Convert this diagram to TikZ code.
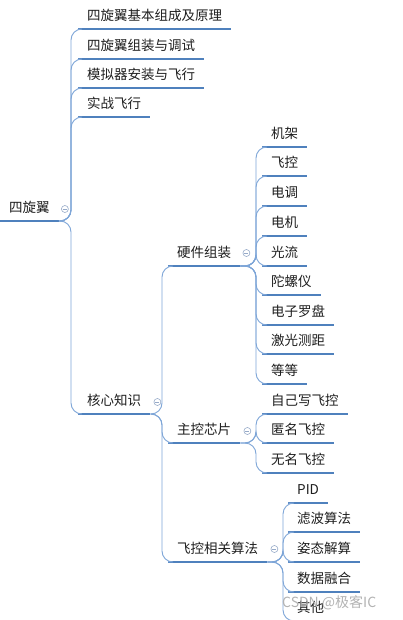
\documentclass[tikz,border=0pt]{standalone}
\usepackage{fontspec}
\newfontfamily\cjk{Noto Sans CJK SC}
\usepackage{tikz}
\usetikzlibrary{positioning, arrows.meta}
\usepackage{xcolor}
\definecolor{ulblue}{RGB}{79,129,189}
\definecolor{lnblue}{RGB}{125,165,215}
\definecolor{txtgray}{RGB}{30,30,30}
\definecolor{knob}{RGB}{150,170,200}
\tikzset{topic/.style={anchor=south west, inner xsep=9pt, inner ysep=0pt,
           text height=12pt, text depth=8pt, font=\cjk\fontsize{13.5}{16}\selectfont,
           text=txtgray, append after command={
             (\tikzlastnode.south west) edge[uline] (\tikzlastnode.south east)}},
         uline/.style={draw=ulblue, line width=2.4pt},
         conn/.style={draw=lnblue, line width=0.9pt, rounded corners=11pt},
         fold/.style={circle, draw=knob, line width=0.6pt, minimum size=7pt,
           inner sep=0pt, path picture={\draw[knob, line width=0.6pt]
             ([xshift=-2pt]path picture bounding box.center) --
             ([xshift=2pt]path picture bounding box.center);}}}

\begin{document}
\begin{tikzpicture}[x=1pt, y=-1pt]
        \useasboundingbox (0,0) rectangle (402,620);

        % Root and first level
        \node[topic] (root) at (0,221) {四旋翼};
        \node[topic] (basic) at (78,29) {四旋翼基本组成及原理};
        \node[topic] (build) at (78,59) {四旋翼组装与调试};
        \node[topic] (sim) at (78,88) {模拟器安装与飞行};
        \node[topic] (fly) at (78,117) {实战飞行};
        \node[topic] (core) at (78,414) {核心知识};

        % Second level
        \node[topic] (hw) at (168,266) {硬件组装};
        \node[topic] (mcu) at (168,443) {主控芯片};
        \node[topic] (algo) at (168,562) {飞控相关算法};

        % Hardware parts
        \node[topic] (frame) at (262,147) {机架};
        \node[topic] (fc) at (262,176) {飞控};
        \node[topic] (esc) at (262,206) {电调};
        \node[topic] (motor) at (262,236) {电机};
        \node[topic] (flow) at (262,266) {光流};
        \node[topic] (gyro) at (262,295) {陀螺仪};
        \node[topic] (compass) at (262,325) {电子罗盘};
        \node[topic] (lidar) at (262,354) {激光测距};
        \node[topic] (etc) at (262,384) {等等};

        % Flight controllers
        \node[topic] (own) at (262,414) {自己写飞控};
        \node[topic] (anon) at (262,443) {匿名飞控};
        \node[topic] (noname) at (262,473) {无名飞控};

        % Algorithms
        \node[topic] (pid) at (288,503) {PID};
        \node[topic] (filter) at (288,532) {滤波算法};
        \node[topic] (attitude) at (288,562) {姿态解算};
        \node[topic] (fusion) at (288,592) {数据融合};
        \node[topic] (other) at (288,621) {其他};

        % Fold knobs
        \node[fold] (kroot) at ([xshift=6pt,yshift=12pt]root.south east) {};
        \node[fold] (kcore) at ([xshift=7pt,yshift=12pt]core.south east) {};
        \node[fold] (khw) at ([xshift=6pt,yshift=13pt]hw.south east) {};
        \node[fold] (kmcu) at ([xshift=7pt,yshift=12pt]mcu.south east) {};
        \node[fold] (kalgo) at ([xshift=7pt,yshift=13pt]algo.south east) {};

        % Connectors
        \foreach \c in {basic, build, sim, fly, core}
          \draw[conn] (root.south east) -| ([xshift=-7pt]\c.south west) -- (\c.south west);
        \foreach \c in {hw, mcu, algo}
          \draw[conn] (core.south east) -| ([xshift=-6pt]\c.south west) -- (\c.south west);
        \foreach \c in {frame, fc, esc, motor, flow, gyro, compass, lidar, etc}
          \draw[conn] (hw.south east) -| ([xshift=-6pt]\c.south west) -- (\c.south west);
        \foreach \c in {own, anon, noname}
          \draw[conn] (mcu.south east) -| ([xshift=-6pt]\c.south west) -- (\c.south west);
        \foreach \c in {pid, filter, attitude, fusion, other}
          \draw[conn] (algo.south east) -| ([xshift=-5pt]\c.south west) -- (\c.south west);

        % Watermark
        \node[font=\cjk\fontsize{14}{16}\selectfont, text=black!30, anchor=west,
          inner sep=0pt] (mark) at (282,603) {CSDN @极客IC};

    \end{tikzpicture}
\end{document}
